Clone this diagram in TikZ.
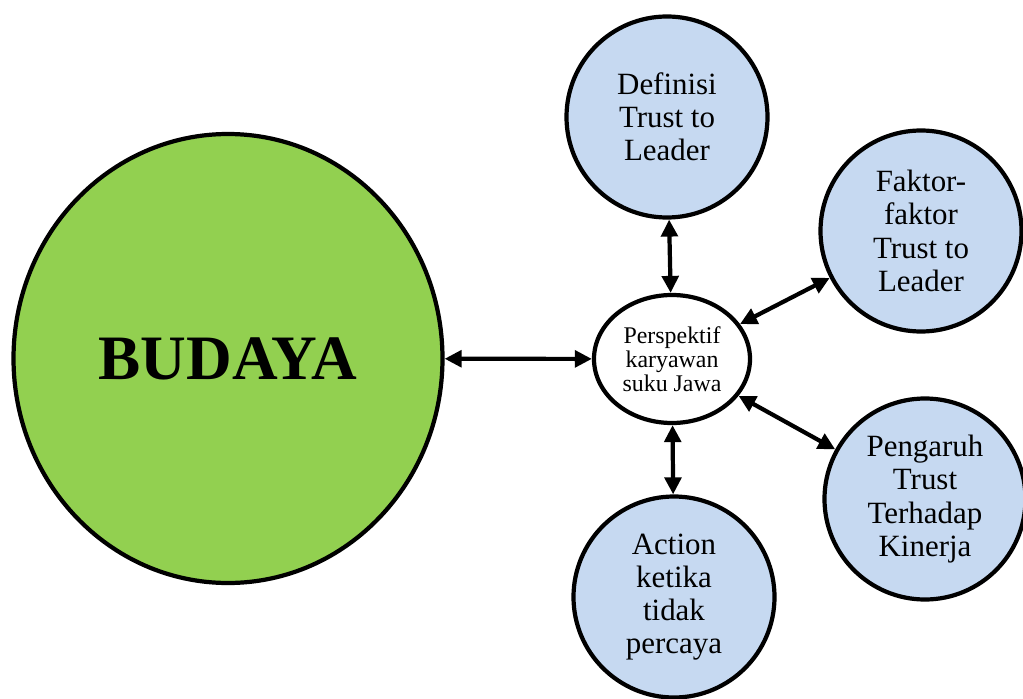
\documentclass[tikz,border=0pt]{standalone}
\usepackage{fontspec}
\setmainfont{Liberation Serif}
\usetikzlibrary{shapes.geometric,arrows.meta}

\definecolor{hijau}{HTML}{92D050}
\definecolor{birumuda}{HTML}{C6D9F1}

\tikzset{
    garis/.style={line width=2.4pt},
    topik/.style={circle,draw,garis,fill=birumuda,minimum size=4.02cm,
      align=center,inner sep=0pt,font=\fontsize{17.6}{18.9}\selectfont},
    panah/.style={garis,{Triangle[length=0.34cm,width=0.33cm]}-{Triangle[length=0.34cm,width=0.33cm]}}
}

\begin{document}
\begin{tikzpicture}
    \useasboundingbox (0,0) rectangle (20.46,13.96);
    \clip (0,0) rectangle (20.46,13.96);

    % big circle on the left
    \node[ellipse,draw,garis,fill=hijau,minimum width=8.58cm,minimum height=8.98cm,
      font=\fontsize{36}{40}\selectfont\bfseries] (budaya) at (4.56,6.79) {BUDAYA};

    % small ellipse in the middle
    \node[ellipse,draw,garis,fill=white,minimum width=3.12cm,minimum height=2.56cm,
      inner sep=0pt,align=center,font=\fontsize{13.6}{13.8}\selectfont] (pusat) at (13.44,6.78)
      {Perspektif\\karyawan\\suku Jawa};

    % the four topics round it
    \node[topik] (definisi) at (13.34,11.62) {Definisi\\Trust to\\Leader};
    \node[topik] (faktor) at (18.42,9.34) {Faktor-\\faktor\\Trust to\\Leader};
    \node[topik] (pengaruh) at (18.5,3.98) {Pengaruh\\Trust\\Terhadap\\Kinerja};
    \node[topik] (action) at (13.48,2.02) {Action\\ketika\\tidak\\percaya};

    \draw[panah] (budaya) -- (pusat);
    \draw[panah] (pusat) -- (definisi);
    \draw[panah] (pusat) -- (faktor);
    \draw[panah] (pusat) -- (pengaruh);
    \draw[panah] (pusat) -- (action);
\end{tikzpicture}
\end{document}
